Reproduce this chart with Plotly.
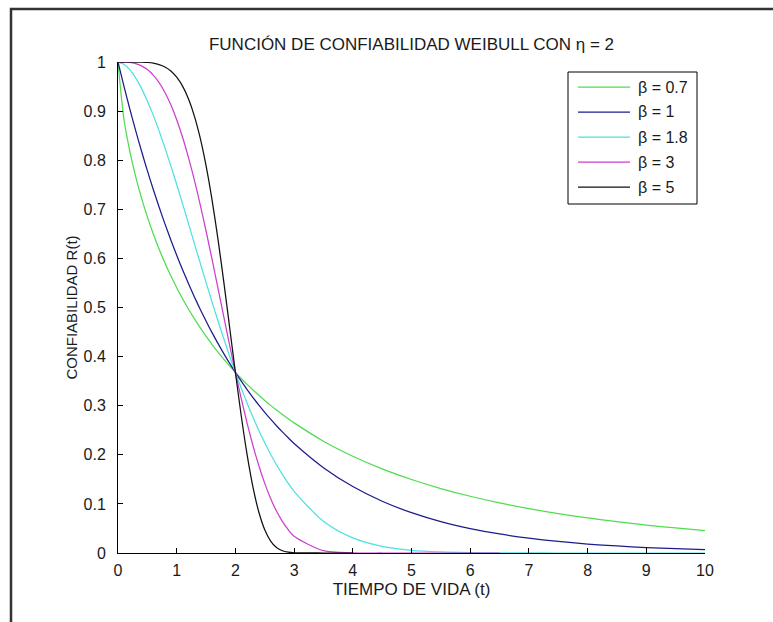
import plotly.graph_objects as go

# Time axis (t), read along the x axis
t_values = [0.0, 0.1, 0.2, 0.3, 0.4, 0.5, 0.6, 0.7, 0.8, 0.9, 1.0,
            1.1, 1.2, 1.3, 1.4, 1.5, 1.6, 1.7, 1.8, 1.9, 2.0,
            2.1, 2.2, 2.3, 2.4, 2.5, 2.6, 2.7, 2.8, 2.9, 3.0,
            3.5, 4.0, 4.5, 5.0, 5.5, 6.0, 6.5, 7.0, 7.5, 8.0, 8.5, 9.0, 9.5, 10.0]

# Reliability R(t) for each shape parameter
r_beta_07 = [1.0, 0.8844, 0.8191, 0.7672, 0.7232, 0.6846, 0.6502, 0.6190, 0.5907, 0.5645, 0.5403,
             0.5179, 0.4969, 0.4773, 0.4589, 0.4415, 0.4251, 0.4096, 0.3950, 0.3811, 0.3679,
             0.3553, 0.3434, 0.3320, 0.3211, 0.3107, 0.3007, 0.2912, 0.2821, 0.2733, 0.2650,
             0.2277, 0.1970, 0.1713, 0.1497, 0.1313, 0.1156, 0.1021, 0.0904, 0.0802, 0.0714,
             0.0637, 0.0569, 0.0510, 0.0457]
r_beta_1 = [1.0, 0.9512, 0.9048, 0.8607, 0.8187, 0.7788, 0.7408, 0.7047, 0.6703, 0.6376, 0.6065,
            0.5769, 0.5488, 0.5220, 0.4966, 0.4724, 0.4493, 0.4274, 0.4066, 0.3867, 0.3679,
            0.3499, 0.3329, 0.3166, 0.3012, 0.2865, 0.2725, 0.2592, 0.2466, 0.2346, 0.2231,
            0.1738, 0.1353, 0.1054, 0.0821, 0.0639, 0.0498, 0.0388, 0.0302, 0.0235, 0.0183,
            0.0143, 0.0111, 0.0087, 0.0067]
r_beta_18 = [1.0, 0.9955, 0.9843, 0.9677, 0.9463, 0.9208, 0.8918, 0.8597, 0.8252, 0.7885, 0.7504,
             0.7111, 0.6712, 0.6309, 0.5908, 0.5511, 0.5121, 0.4741, 0.4373, 0.4018, 0.3679,
             0.3356, 0.3051, 0.2763, 0.2495, 0.2244, 0.2012, 0.1797, 0.1600, 0.1420, 0.1256,
             0.0647, 0.0307, 0.0135, 0.0055, 0.0021, 0.0007, 0.0002, 0.0001, 0.0, 0.0,
             0.0, 0.0, 0.0, 0.0]
r_beta_3 = [1.0, 0.9999, 0.9990, 0.9966, 0.9920, 0.9845, 0.9734, 0.9580, 0.9380, 0.9129, 0.8825,
            0.8467, 0.8057, 0.7599, 0.7096, 0.6558, 0.5993, 0.5411, 0.4824, 0.4243, 0.3679,
            0.3142, 0.2642, 0.2185, 0.1776, 0.1418, 0.1111, 0.0854, 0.0643, 0.0474, 0.0342,
            0.0047, 0.0003, 0.0, 0.0, 0.0, 0.0, 0.0]
r_beta_5 = [1.0, 1.0, 1.0, 0.9999, 0.9997, 0.9990, 0.9976, 0.9948, 0.9898, 0.9817, 0.9692,
            0.9509, 0.9252, 0.8904, 0.8453, 0.7888, 0.7206, 0.6417, 0.5541, 0.4613, 0.3679,
            0.2791, 0.1998, 0.1338, 0.0830, 0.0473, 0.0244, 0.0113, 0.0046, 0.0016, 0.0005,
            0.0, 0.0]

series_names = ["β = 0.7", "β = 1", "β = 1.8", "β = 3", "β = 5"]
series_values = [r_beta_07, r_beta_1, r_beta_18, r_beta_3, r_beta_5]
series_colors = ["#4fdc4f", "#1c1c8e", "#4fe0e0", "#cc3fcc", "#111111"]

x_ticks = [0, 1, 2, 3, 4, 5, 6, 7, 8, 9, 10]
y_ticks = [0, 0.1, 0.2, 0.3, 0.4, 0.5, 0.6, 0.7, 0.8, 0.9, 1]
y_tick_labels = ["0", "0.1", "0.2", "0.3", "0.4", "0.5", "0.6", "0.7", "0.8", "0.9", "1"]

FONT = "Liberation Sans, Arial, sans-serif"
TXT = "#1a1a1a"

fig = go.Figure()
for name, vals, col in zip(series_names, series_values, series_colors):
    fig.add_trace(go.Scatter(
        x=t_values[:len(vals)], y=vals, mode="lines", name=name,
        line=dict(color=col, width=1.25, shape="spline", smoothing=0.8),
        showlegend=False,
    ))

# Plot area geometry in pixels
W, H = 773, 622
L, R, T, B = 118, 705, 62, 553
pw, ph = R - L, B - T

def px_x(px):
    return (px - L) / pw

def px_y(py):
    return (B - py) / ph

# Frame of the original figure window (top and left edges)
FRAME_COLOR = "#333333"
shapes = [
    dict(type="path", xref="paper", yref="paper",
         path=(f"M {px_x(11)} {px_y(H + 5)} L {px_x(11)} {px_y(9)} "
               f"L {px_x(W + 5)} {px_y(9)}"),
         line=dict(color=FRAME_COLOR, width=2.5), layer="above"),
]

# Legend box in MATLAB style (box, line samples, labels)
LEG_L, LEG_R, LEG_T, LEG_B = 568, 697, 72, 204
ROW0, ROW_STEP = 87, 25
shapes.append(dict(type="rect", xref="paper", yref="paper",
                   x0=px_x(LEG_L), x1=px_x(LEG_R), y0=px_y(LEG_B), y1=px_y(LEG_T),
                   line=dict(color="black", width=1), fillcolor="white", layer="above"))
annotations = []
for i, (name, col) in enumerate(zip(series_names, series_colors)):
    yy = ROW0 + i * ROW_STEP
    shapes.append(dict(type="line", xref="paper", yref="paper",
                       x0=px_x(578), x1=px_x(630), y0=px_y(yy), y1=px_y(yy),
                       line=dict(color=col, width=1.25), layer="above"))
    annotations.append(dict(xref="paper", yref="paper", x=px_x(636), y=px_y(yy),
                            xanchor="left", yanchor="middle", showarrow=False,
                            text=name, font=dict(size=16, family=FONT, color=TXT)))

fig.update_layout(
    width=W, height=H,
    margin=dict(l=L, r=W - R, t=T, b=H - B, pad=0),
    paper_bgcolor="white", plot_bgcolor="white",
    font=dict(family=FONT, color=TXT, size=16),
    title=dict(text="FUNCIÓN DE CONFIABILIDAD WEIBULL CON η = 2",
               x=(L + R) / 2 / W, xanchor="center",
               y=1 - 44 / H, yanchor="middle",
               font=dict(size=17, family=FONT, color=TXT)),
    showlegend=False,
    shapes=shapes,
    annotations=annotations,
)

fig.update_xaxes(
    range=[0, 10], tickvals=x_ticks, ticks="inside", ticklen=5, tickcolor="black",
    showline=True, linecolor="black", linewidth=1, mirror=False,
    showgrid=False, zeroline=False,
    tickfont=dict(size=16, family=FONT, color=TXT),
    ticklabelstandoff=3,
    title=dict(text="TIEMPO DE VIDA (t)", standoff=4,
               font=dict(size=17, family=FONT, color=TXT)),
)
fig.update_yaxes(
    range=[0, 1], tickvals=y_ticks, ticktext=y_tick_labels,
    ticks="inside", ticklen=5, tickcolor="black",
    showline=True, linecolor="black", linewidth=1, mirror=False,
    showgrid=False, zeroline=False,
    tickfont=dict(size=16, family=FONT, color=TXT),
    ticklabelstandoff=8,
    title=dict(text="CONFIABILIDAD R(t)", standoff=2,
               font=dict(size=15, family=FONT, color=TXT)),
)

fig.write_html("out.html", config={"displayModeBar": False})
